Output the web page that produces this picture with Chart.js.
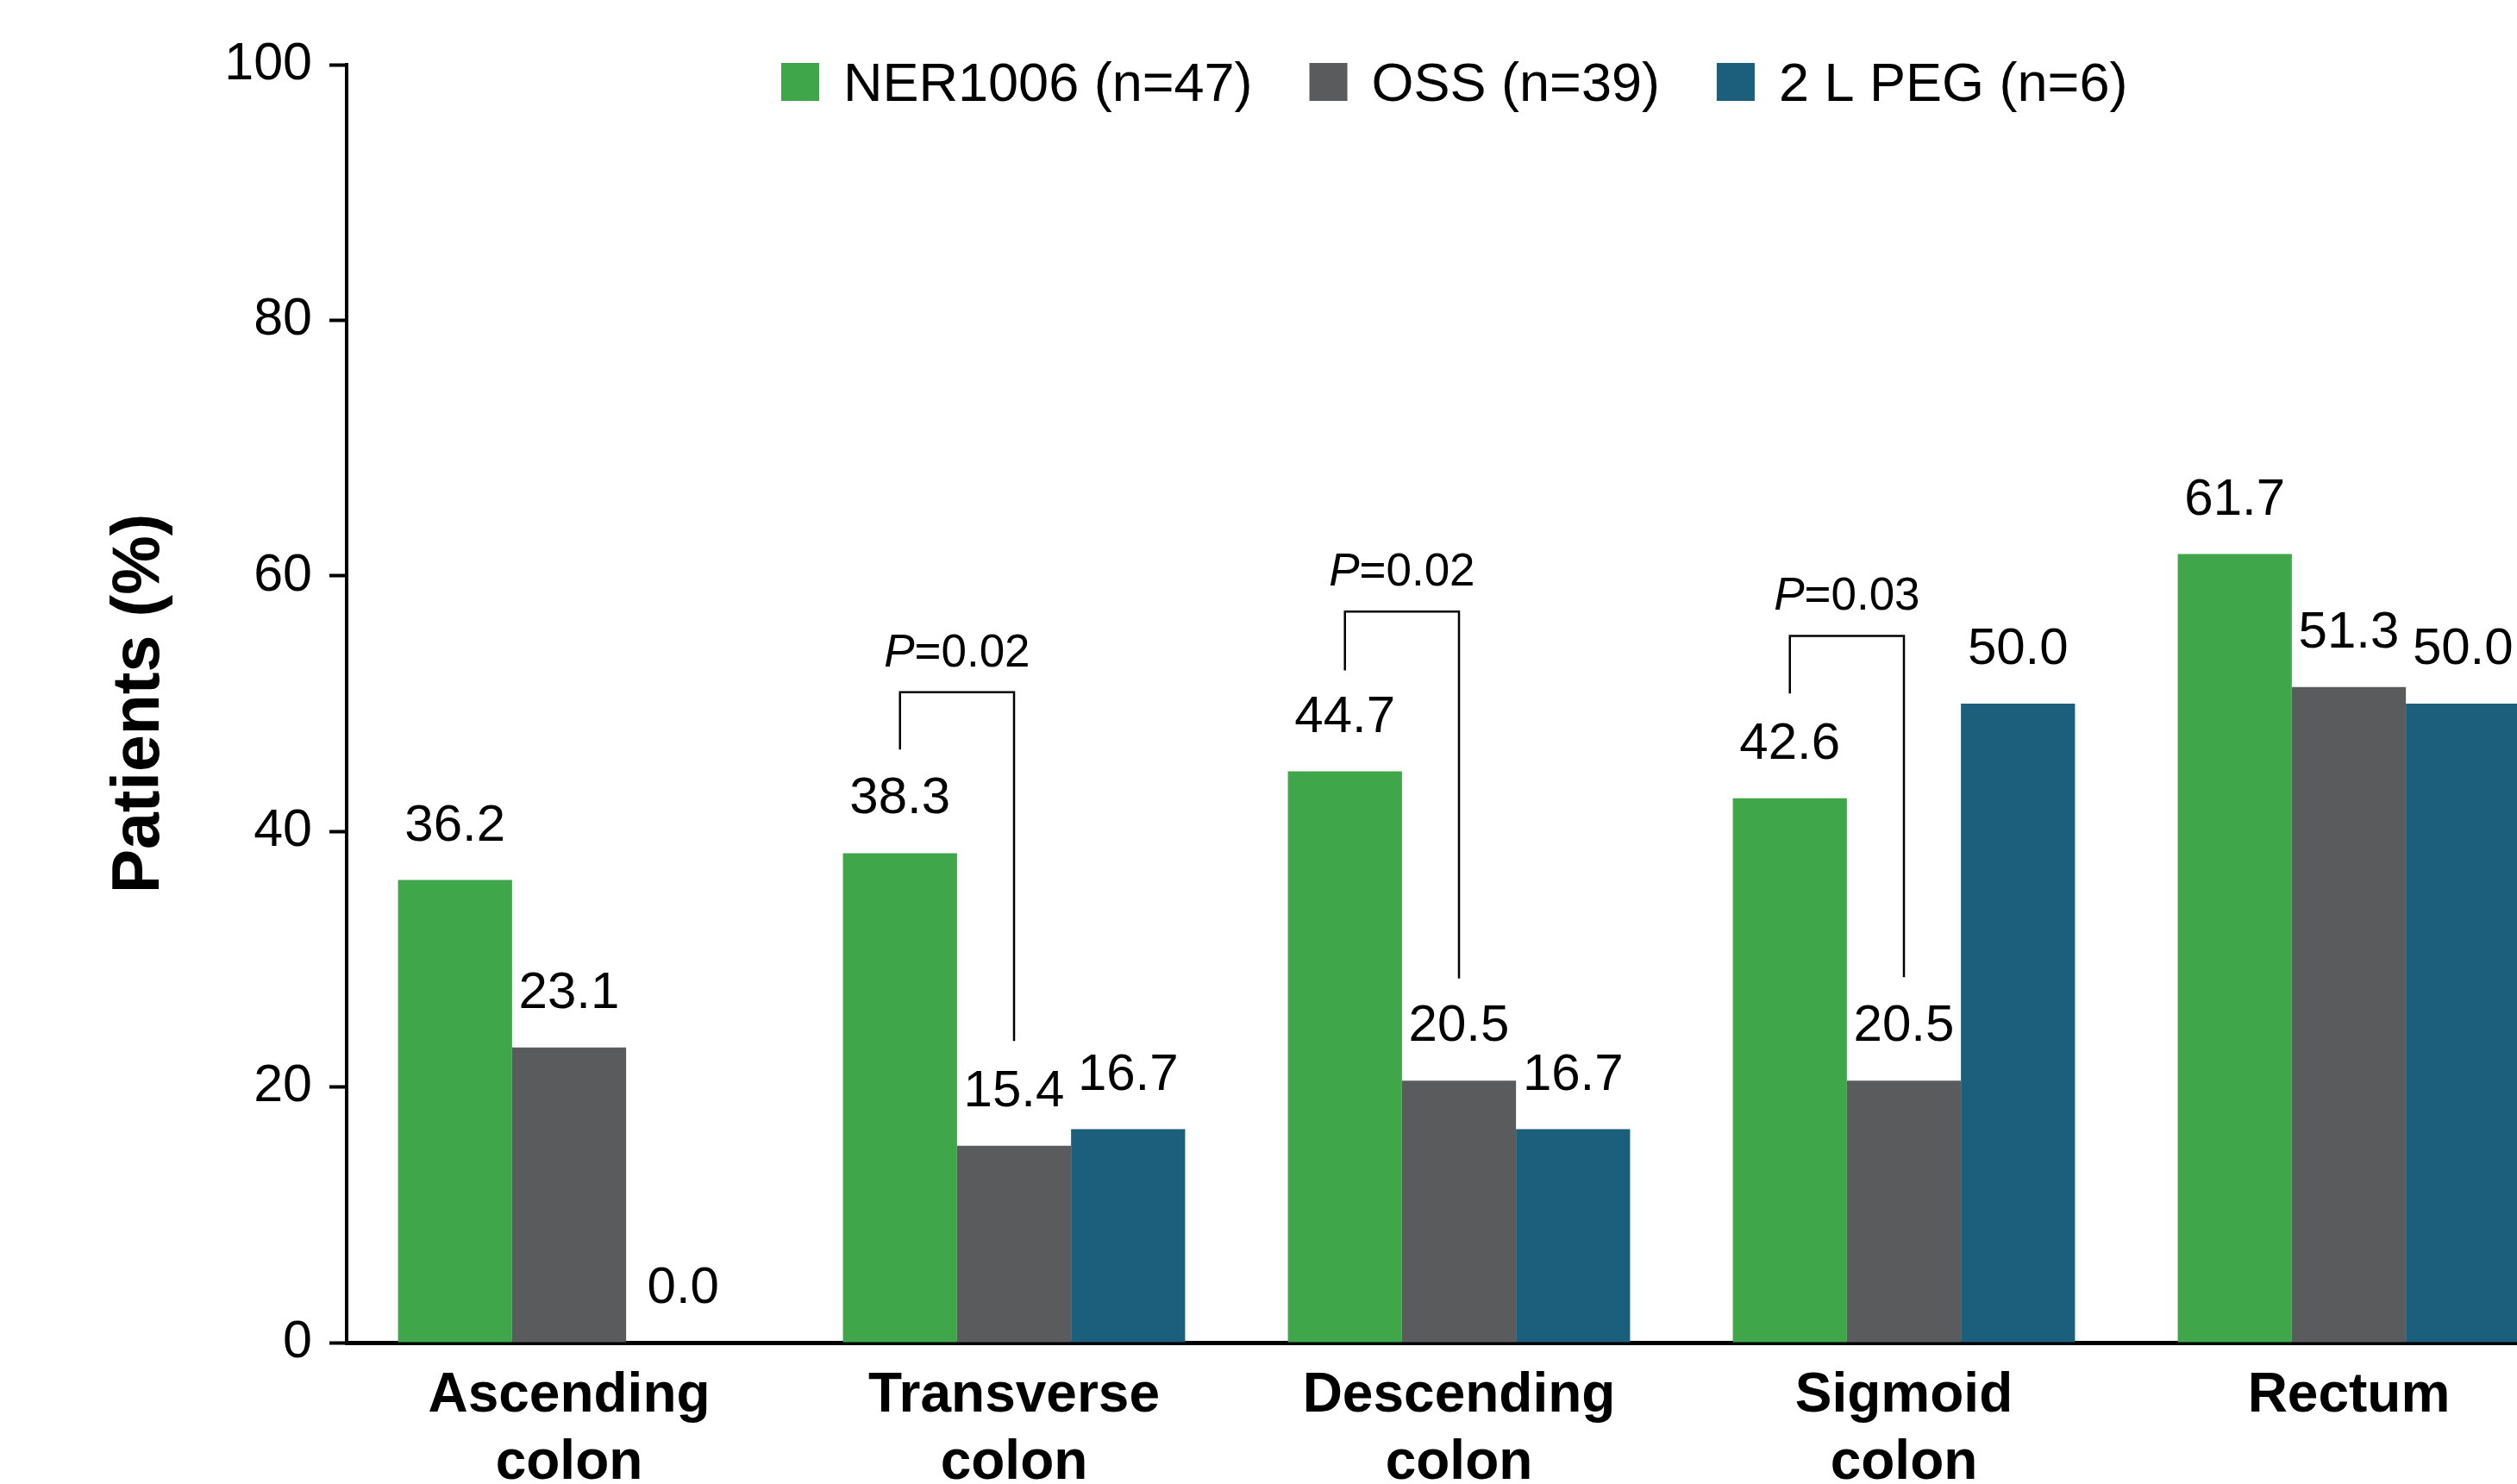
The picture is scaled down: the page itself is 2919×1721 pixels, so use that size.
<!DOCTYPE html>
<html>
<head>
<meta charset="utf-8">
<script src="https://cdn.jsdelivr.net/npm/chart.js@4.4.0/dist/chart.umd.min.js"></script>
<style>
  html, body { margin: 0; padding: 0; overflow: hidden; background: #ffffff; }
  #wrap { width: 2919px; height: 1721px; overflow: hidden; position: relative; }
  canvas { display: block; }
</style>
</head>
<body>
<div id="wrap"><canvas id="chart" width="3000" height="1721"></canvas></div>
<script>
// Colon segments on the x axis (two-line labels)
const categories = [
  ['Ascending', 'colon'],
  ['Transverse', 'colon'],
  ['Descending', 'colon'],
  ['Sigmoid', 'colon'],
  ['Rectum']
];

// Series names shown in the legend
const seriesNames = ['NER1006 (n=47)', 'OSS (n=39)', '2 L PEG (n=6)'];

// Patients (%) per segment, one array per bowel preparation
const ner1006 = [36.2, 38.3, 44.7, 42.6, 61.7];
const oss     = [23.1, 15.4, 20.5, 20.5, 51.3];
const peg2l   = [0.0, 16.7, 16.7, 50.0, 50.0];

// Y axis tick values
const yTicks = [0, 20, 40, 60, 80, 100];

// NER1006 vs OSS comparisons: segment index and P value
const pSegments = [1, 2, 3];
const pValues   = ['0.02', '0.02', '0.03'];

const seriesColors = ['#3fa64a', '#5a5b5d', '#1b5f7c'];
const FONT = '"Liberation Sans", Arial, Helvetica, sans-serif';

// Bracket geometry, expressed in axis units (crossbar, left leg end, right leg end)
const bracketGeometry = [
  { bar: 50.9, left: 46.4, right: 23.6 },
  { bar: 57.2, left: 52.6, right: 28.5 },
  { bar: 55.3, left: 50.8, right: 28.6 }
];

// Numbers printed above each bar
const valueLabelPlugin = {
  id: 'valueLabels',
  afterDatasetsDraw(chart) {
    const ctx = chart.ctx;
    ctx.save();
    ctx.font = '60px ' + FONT;
    ctx.fillStyle = '#000';
    ctx.textAlign = 'center';
    ctx.textBaseline = 'alphabetic';
    chart.data.datasets.forEach((ds, di) => {
      const meta = chart.getDatasetMeta(di);
      meta.data.forEach((bar, i) => {
        ctx.fillText(ds.data[i].toFixed(1), bar.x, bar.y - 46);
      });
    });
    ctx.restore();
  }
};

// Significance brackets between the NER1006 and OSS bars
const bracketPlugin = {
  id: 'pBrackets',
  afterDatasetsDraw(chart) {
    const ctx = chart.ctx;
    const y = chart.scales.y;
    const m0 = chart.getDatasetMeta(0);
    const m1 = chart.getDatasetMeta(1);
    ctx.save();
    ctx.strokeStyle = '#000';
    ctx.lineWidth = 2.5;
    pSegments.forEach((seg, k) => {
      const g = bracketGeometry[k];
      const x0 = m0.data[seg].x;
      const x1 = m1.data[seg].x;
      const yb = y.getPixelForValue(g.bar);
      ctx.beginPath();
      ctx.moveTo(x0, y.getPixelForValue(g.left));
      ctx.lineTo(x0, yb);
      ctx.lineTo(x1, yb);
      ctx.lineTo(x1, y.getPixelForValue(g.right));
      ctx.stroke();

      const italic = 'italic 53px ' + FONT;
      const regular = '53px ' + FONT;
      const rest = '=' + pValues[k];
      ctx.font = italic;
      const wP = ctx.measureText('P').width;
      ctx.font = regular;
      const wR = ctx.measureText(rest).width;
      const cx = (x0 + x1) / 2;
      const start = cx - (wP + wR) / 2;
      const base = yb - 30;
      ctx.fillStyle = '#000';
      ctx.textBaseline = 'alphabetic';
      ctx.textAlign = 'left';
      ctx.font = italic;
      ctx.fillText('P', start, base);
      ctx.font = regular;
      ctx.fillText(rest, start + wP, base);
    });
    ctx.restore();
  }
};

// Horizontal legend across the top of the plot
const legendPlugin = {
  id: 'topLegend',
  afterDraw(chart) {
    const ctx = chart.ctx;
    const area = chart.chartArea;
    ctx.save();
    ctx.font = '63px ' + FONT;
    ctx.textBaseline = 'alphabetic';
    ctx.textAlign = 'left';
    let x = area.left + 504;
    const boxTop = 73, boxSize = 44, baseline = 117;
    chart.data.datasets.forEach((ds) => {
      ctx.fillStyle = ds.backgroundColor;
      ctx.fillRect(x, boxTop, boxSize, boxSize);
      x += boxSize + 28;
      ctx.fillStyle = '#000';
      ctx.fillText(ds.label, x, baseline);
      x += ctx.measureText(ds.label).width + 66;
    });
    ctx.restore();
  }
};

const seriesValues = [ner1006, oss, peg2l];

new Chart(document.getElementById('chart'), {
  type: 'bar',
  data: {
    labels: categories,
    datasets: seriesNames.map((name, i) => ({
      label: name,
      data: seriesValues[i],
      backgroundColor: seriesColors[i],
      borderWidth: 0,
      barPercentage: 1.0,
      categoryPercentage: 0.769
    }))
  },
  options: {
    responsive: false,
    animation: false,
    devicePixelRatio: 1,
    layout: { padding: { left: 0, top: 75, right: 18, bottom: 0 } },
    plugins: {
      legend: { display: false },
      tooltip: { enabled: false },
      title: { display: false }
    },
    scales: {
      x: {
        grid: { display: false, drawTicks: false },
        border: { display: true, color: '#000', width: 5 },
        ticks: {
          color: '#000',
          padding: 23,
          maxRotation: 0,
          autoSkip: false,
          font: { family: FONT, size: 64, weight: 'bold', lineHeight: 1.22 }
        },
        afterFit(scale) { scale.height = 164; }
      },
      y: {
        min: 0,
        max: 100,
        afterBuildTicks(scale) { scale.ticks = yTicks.map(v => ({ value: v })); },
        grid: {
          drawOnChartArea: false,
          drawTicks: true,
          tickLength: 20,
          tickWidth: 4,
          tickColor: '#000'
        },
        border: { display: true, color: '#000', width: 4 },
        ticks: {
          color: '#000',
          padding: 20,
          font: { family: FONT, size: 61 }
        },
        title: {
          display: true,
          text: 'Patients (%)',
          color: '#000',
          padding: { top: 117, bottom: 0 },
          font: { family: FONT, size: 77, weight: 'bold' }
        },
        afterFit(scale) { scale.width = 402; }
      }
    }
  },
  plugins: [valueLabelPlugin, bracketPlugin, legendPlugin]
});
</script>
</body>
</html>
